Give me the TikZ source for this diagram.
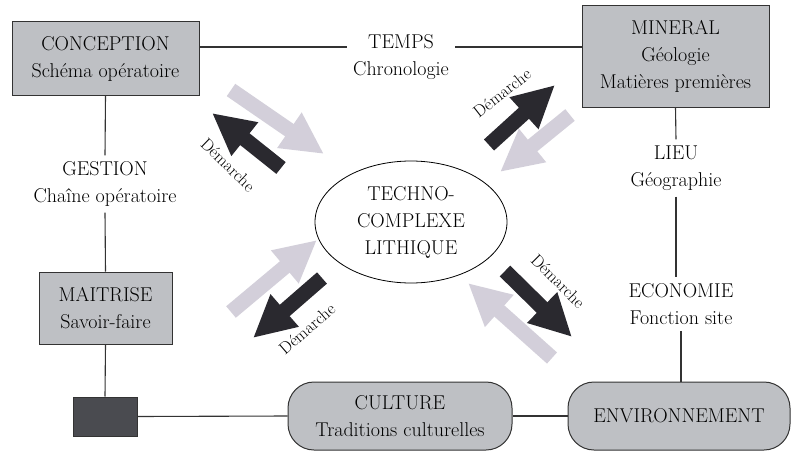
\documentclass[tikz,border=0pt]{standalone}
\usetikzlibrary{positioning, shapes.geometric, arrows.meta}

\definecolor{boxgray}{HTML}{BEC0C4}
\definecolor{darkbox}{HTML}{4A4B50}
\definecolor{pleine}{HTML}{2A292F}
\definecolor{pale}{HTML}{D3CFDA}
\definecolor{trait}{HTML}{333333}

\tikzset{
  grisbox/.style={draw=trait, fill=boxgray, line width=1pt, align=center, inner sep=0pt},
  roundbox/.style={grisbox, rounded corners=26pt},
  etiquette/.style={align=center, inner sep=6pt},
  lien/.style={draw=trait, line width=1.1pt},
  fleche/.style={line width=15pt, -{Triangle[length=42pt,width=40pt]}},
  demarche/.style={fleche, pleine},
  retour/.style={fleche, pale},
  mot/.style={font=\fontsize{17}{19}\selectfont, inner sep=0pt}
}

\begin{document}
\begin{tikzpicture}[x=1pt, y=-1pt, font=\fontsize{20}{27}\selectfont]
        \useasboundingbox (0,0) rectangle (792,452);

        % Blocks
        \node[grisbox, minimum width=187pt, minimum height=73pt] (concep) at (105.5,58.5) {CONCEPTION\\Schéma opératoire};
        \node[etiquette] (temps) at (401,57) {TEMPS\\Chronologie};
        \node[grisbox, minimum width=187pt, minimum height=101pt] (miner) at (675.5,56.5) {MINERAL\\Géologie\\Matières premières};
        \node[etiquette] (lieu) at (676,168) {LIEU\\Géographie};
        \node[etiquette] (econ) at (681,304) {ECONOMIE\\Fonction site};
        \node[roundbox, minimum width=222pt, minimum height=68pt] (envir) at (679,416) {ENVIRONNEMENT};
        \node[roundbox, minimum width=224pt, minimum height=68pt] (cult) at (400,416) {CULTURE\\Traditions culturelles};
        \node[draw=trait, fill=darkbox, line width=1pt, minimum width=64pt, minimum height=39pt] (carre) at (105,416.5) {};
        \node[grisbox, minimum width=133pt, minimum height=72pt] (maitr) at (105.5,308) {MAITRISE\\Savoir-faire};
        \node[etiquette] (gest) at (105,184) {GESTION\\Chaîne opératoire};
        \node[ellipse, draw=black, line width=0.8pt, minimum width=192pt, minimum height=122pt, inner sep=0pt, align=center] (techno) at (411,222) {TECHNO-\\COMPLEXE\\LITHIQUE};

        % Links
        \draw[lien] (concep.east |- 0,47) -- (temps.west |- 0,47);
        \draw[lien] (temps.east |- 0,47) -- (miner.west |- 0,47);
        \draw[lien] (miner.south) -- (lieu.north);
        \draw[lien] (lieu.south) -- (lieu.south |- econ.north);
        \draw[lien] (econ.south) -- (envir.north -| econ.south);
        \draw[lien] (envir.west) -- (cult.east);
        \draw[lien] (cult.west) -- (carre.east);
        \draw[lien] (carre.north) -- (maitr.south);
        \draw[lien] (maitr.north) -- (gest.south);
        \draw[lien] (gest.north) -- (concep.south);

        % Arrows
        \coordinate (nwa) at (231,90);  \coordinate (nwb) at (324,154);
        \coordinate (nwc) at (281,168); \coordinate (nwd) at (212,113);
        \coordinate (nea) at (570,115); \coordinate (neb) at (500,172);
        \coordinate (nec) at (489,145); \coordinate (ned) at (555,85);
        \coordinate (swa) at (231,312); \coordinate (swb) at (317,240);
        \coordinate (swc) at (322,278); \coordinate (swd) at (253,338);
        \coordinate (sea) at (552,358); \coordinate (seb) at (468,283);
        \coordinate (sec) at (505,271); \coordinate (sed) at (572,337);
        \draw[retour] (nwa) -- (nwb);
        \draw[demarche] (nwc) -- (nwd);
        \draw[retour] (nea) -- (neb);
        \draw[demarche] (nec) -- (ned);
        \draw[retour] (swa) -- (swb);
        \draw[demarche] (swc) -- (swd);
        \draw[retour] (sea) -- (seb);
        \draw[demarche] (sec) -- (sed);

        % Labels
        \node[mot, rotate=-44] (dnw) at (228,165) {Démarche};
        \node[mot, rotate=38] (dne) at (502,93) {Démarche};
        \node[mot, rotate=41] (dsw) at (307,329) {Démarche};
        \node[mot, rotate=-45] (dse) at (558,281) {Démarche};
\end{tikzpicture}
\end{document}
